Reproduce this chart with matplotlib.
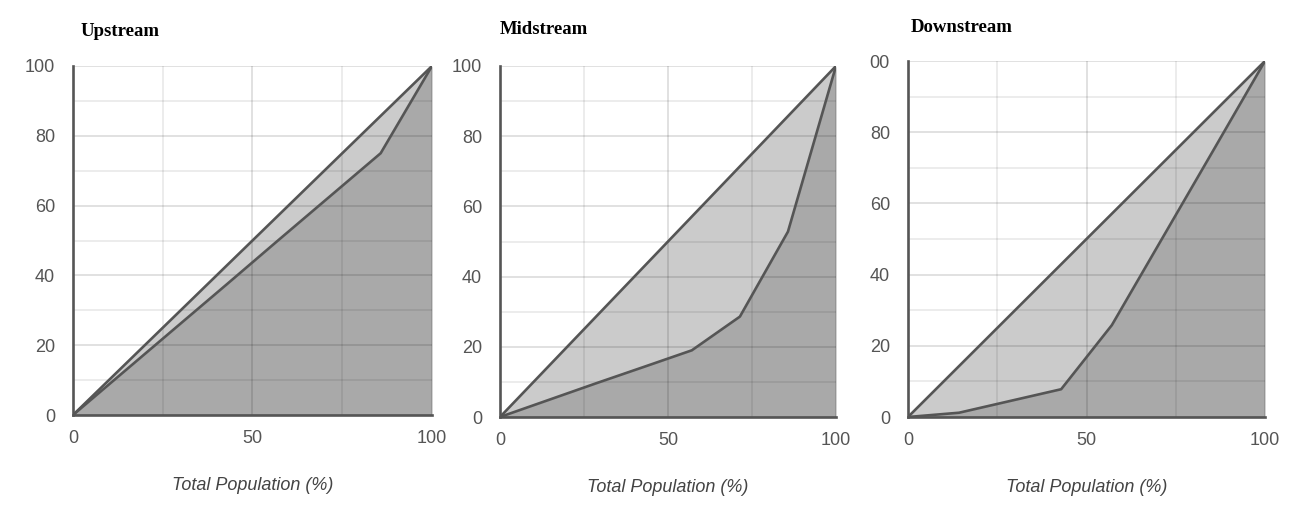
import numpy as np
import matplotlib
matplotlib.use('Agg')
import matplotlib.pyplot as plt
from matplotlib.ticker import MultipleLocator

# cumulative population share (x) vs cumulative share (y)
pop = [0, 14.3, 28.6, 42.9, 57.1, 71.4, 85.7, 100]
upstream = [0, 12.5, 25.0, 37.5, 50.0, 62.5, 75.0, 100]
midstream = [0, 4.8, 9.6, 14.3, 19.0, 28.6, 52.8, 100]
downstream = [0, 1.2, 4.5, 7.8, 25.8, 50.5, 75.2, 100]

titles = ['Upstream', 'Midstream', 'Downstream']
series = [upstream, midstream, downstream]
xticks = [0, 50, 100]
xticklabels = ['0', '50', '100']
yticks = [0, 20, 40, 60, 80, 100]
yticklabels = [['0', '20', '40', '60', '80', '100'],
               ['0', '20', '40', '60', '80', '100'],
               ['0', '20', '40', '60', '80', '00']]

linecol = '#555555'
light = '#cbcbcb'
dark = '#a9a9a9'
tickcol = '#555555'

W, H = 1303, 521
# axes boxes in pixels: left, right, top, bottom
boxes = [(73, 432, 66, 415), (500, 836, 66, 417), (908, 1265, 61, 417)]
title_pos = [(81, 31), (500, 30), (911, 28)]
xlabel_y = [485, 488, 488]

fig = plt.figure(figsize=(W/100, H/100), dpi=100)

for i in range(3):
    l, r, t, b = boxes[i]
    ax = fig.add_axes([l/W, 1-b/H, (r-l)/W, (b-t)/H])
    y = series[i]
    ax.fill_between(pop, 0, y, color=dark, lw=0, zorder=1)
    ax.fill_between(pop, y, pop, color=light, lw=0, zorder=1)
    ax.plot([0, 100], [0, 100], color=linecol, lw=1.9, zorder=3, solid_capstyle='round')
    ax.plot(pop, y, color=linecol, lw=1.9, zorder=3, solid_joinstyle='round')

    ax.set_xlim(0, 100)
    ax.set_ylim(0, 100)
    ax.set_xticks(xticks)
    ax.set_xticklabels(xticklabels)
    ax.set_yticks(yticks)
    ax.set_yticklabels(yticklabels[i])
    ax.xaxis.set_minor_locator(MultipleLocator(25))
    ax.yaxis.set_minor_locator(MultipleLocator(10))
    ax.set_axisbelow(False)
    ax.grid(which='major', color='black', alpha=0.14, lw=1.2)
    ax.grid(which='minor', color='black', alpha=0.09, lw=1.2)
    ax.tick_params(which='both', length=0, labelsize=13, labelcolor=tickcol)
    ax.tick_params(axis='y', pad=13)
    ax.tick_params(axis='x', pad=10.5)
    for s in ['top', 'right']:
        ax.spines[s].set_visible(False)
    for s in ['left', 'bottom']:
        ax.spines[s].set_color(linecol)
        ax.spines[s].set_linewidth(1.9)
        ax.spines[s].set_zorder(4)

    ax.text(0.5, -(xlabel_y[i]-b)/(b-t), 'Total Population (%)', transform=ax.transAxes,
            ha='center', va='center', fontsize=13, style='italic', color='#444444',
            family='Liberation Sans')
    for lab in ax.get_xticklabels() + ax.get_yticklabels():
        lab.set_family('Liberation Sans')

    tx, ty = title_pos[i]
    fig.text(tx/W, 1-ty/H, titles[i], ha='left', va='center', fontsize=13.5,
             fontweight='bold', family='Liberation Serif')

plt.savefig('out.png', dpi=100)
